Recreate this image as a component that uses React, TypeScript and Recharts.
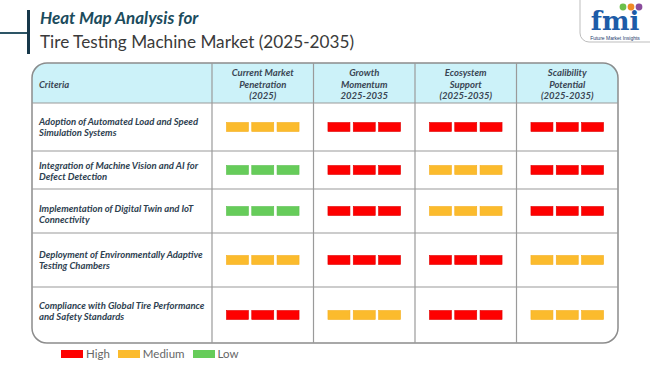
import React from "react";
import {
  ScatterChart,
  Scatter,
  XAxis,
  YAxis,
  ReferenceLine,
  ReferenceArea,
  Legend,
} from "recharts";

// ---------- data ----------
const COLUMN_HEADERS: string[][] = [
  ["Current Market", "Penetration", "(2025)"],
  ["Growth", "Momentum", "2025-2035"],
  ["Ecosystem", "Support", "(2025-2035)"],
  ["Scalibility", "Potential", "(2025-2035)"],
];

const CRITERIA: string[][] = [
  ["Adoption of Automated Load and Speed", "Simulation Systems"],
  ["Integration of Machine Vision and AI for", "Defect Detection"],
  ["Implementation of Digital Twin and IoT", "Connectivity"],
  ["Deployment of Environmentally Adaptive", "Testing Chambers"],
  ["Compliance with Global Tire Performance", "and Safety Standards"],
];

const CURRENT_PENETRATION = ["Medium", "Low", "Low", "Medium", "High"];
const GROWTH_MOMENTUM = ["High", "High", "High", "High", "Medium"];
const ECOSYSTEM_SUPPORT = ["High", "Medium", "Medium", "High", "High"];
const SCALABILITY_POTENTIAL = ["High", "High", "High", "Medium", "Medium"];

const LEVELS = ["High", "Medium", "Low"];

// ---------- layout / style ----------
const COLORS: Record<string, string> = {
  High: "#fe0000",
  Medium: "#fbbb2d",
  Low: "#66cc5a",
};
const STROKES: Record<string, string> = {
  High: "#e00000",
  Medium: "#f5b020",
  Low: "#5cc050",
};

const CRIT_W = 180;
const COL_W = 101.5;
const HEADER_H = 40;
const ROW_H = [48, 38, 44, 54, 56];
const LABEL_SHIFT = [0, 1, 3, 0, -4];
const TABLE_W = CRIT_W + COL_W * 4;
const TABLE_H = HEADER_H + ROW_H.reduce((a, b) => a + b, 0);

const rowTop = (i: number) =>
  HEADER_H + ROW_H.slice(0, i).reduce((a, b) => a + b, 0);
const rowMid = (i: number) => rowTop(i) + ROW_H[i] / 2;
const colMid = (j: number) => CRIT_W + COL_W * j + COL_W / 2;

const SERIES = [
  CURRENT_PENETRATION,
  GROWTH_MOMENTUM,
  ECOSYSTEM_SUPPORT,
  SCALABILITY_POTENTIAL,
];

const cellData = SERIES.flatMap((col, j) =>
  col.map((level, i) => ({ x: colMid(j), y: rowMid(i), level }))
);
const headerData = [
  { x: 90, y: HEADER_H / 2 + 1, lines: ["Criteria"], align: "start" },
  ...COLUMN_HEADERS.map((lines, j) => ({
    x: colMid(j),
    y: HEADER_H / 2 + 1,
    lines,
    align: "middle",
  })),
];
const labelData = CRITERIA.map((lines, i) => ({
  x: 7,
  y: rowMid(i) + LABEL_SHIFT[i],
  lines,
}));

const FONT = "Lato, 'Open Sans', sans-serif";

const CellShape = (props: any) => {
  const { cx, cy, payload } = props;
  const w = 22;
  const h = 9;
  const gap = 3.3;
  const total = w * 3 + gap * 2;
  const fill = COLORS[payload.level];
  const stroke = STROKES[payload.level];
  return (
    <g>
      {[0, 1, 2].map((k) => (
        <rect
          key={k}
          x={cx - total / 2 + k * (w + gap)}
          y={cy - h / 2}
          width={w}
          height={h}
          fill={fill}
          stroke={stroke}
          strokeWidth={0.6}
        />
      ))}
    </g>
  );
};

const HeaderShape = (props: any) => {
  const { cx, cy, payload } = props;
  const n = payload.lines.length;
  const lh = 11.5;
  const x = payload.align === "start" ? cx - 90 + 7 : cx;
  return (
    <text
      x={x}
      textAnchor={payload.align}
      fontFamily={FONT}
      fontStyle="italic"
      fontWeight={700}
      fontSize={9.5}
      fill="#3a4654"
    >
      {payload.lines.map((l: string, k: number) => (
        <tspan
          key={k}
          x={x}
          y={cy + (k - (n - 1) / 2) * lh}
          dominantBaseline="central"
        >
          {l}
        </tspan>
      ))}
    </text>
  );
};

const LabelShape = (props: any) => {
  const { cx, cy, payload } = props;
  const n = payload.lines.length;
  const lh = 11.5;
  return (
    <text
      fontFamily={FONT}
      fontStyle="italic"
      fontWeight={700}
      fontSize={9.5}
      fill="#2e4150"
    >
      {payload.lines.map((l: string, k: number) => (
        <tspan
          key={k}
          x={cx}
          y={cy + (k - (n - 1) / 2) * lh}
          dominantBaseline="central"
        >
          {l}
        </tspan>
      ))}
    </text>
  );
};

const OuterBorder = (props: any) => {
  const { x, y, width, height } = props;
  return (
    <rect
      x={x}
      y={y}
      width={width}
      height={height}
      rx={15}
      ry={15}
      fill="none"
      stroke="#8c8c8c"
      strokeWidth={1.5}
    />
  );
};

const HeaderBg = (props: any) => {
  const { x, y, width, height } = props;
  const r = 15;
  const d = `M${x},${y + height} L${x},${y + r} Q${x},${y} ${x + r},${y} L${
    x + width - r
  },${y} Q${x + width},${y} ${x + width},${y + r} L${x + width},${
    y + height
  } Z`;
  return <path d={d} fill="#ccf2f9" stroke="none" />;
};

const LegendContent = () => (
  <div
    style={{
      display: "flex",
      alignItems: "center",
      fontFamily: FONT,
      fontSize: 11.5,
      color: "#666",
    }}
  >
    {LEVELS.map((lv) => (
      <div
        key={lv}
        style={{ display: "flex", alignItems: "center", marginRight: 8 }}
      >
        <div
          style={{
            width: 22,
            height: 8,
            background: COLORS[lv],
            marginRight: 3,
          }}
        />
        <span>{lv}</span>
      </div>
    ))}
  </div>
);

const Logo = () => (
  <svg
    width={90}
    height={50}
    style={{ position: "absolute", left: 565, top: 0 }}
  >
    <rect
      x={15}
      y={-12}
      width={90}
      height={54}
      rx={9}
      fill="#fff"
      stroke="#bdbdbd"
      strokeWidth={1}
    />
    <circle cx={58} cy={7} r={3.4} fill="#6cc04a" />
    <circle cx={66} cy={7} r={3.4} fill="#f08a24" />
    <circle cx={74} cy={7} r={3.4} fill="#8a4c9c" />
    <text
      x={50}
      y={29.5}
      textAnchor="middle"
      fontFamily="'DejaVu Serif', serif"
      fontWeight={700}
      fontSize={26}
      fill="#1d5ca8"
      letterSpacing={0}
    >
      fmi
    </text>
    <text
      x={50}
      y={39.5}
      textAnchor="middle"
      fontFamily="'Liberation Sans', sans-serif"
      fontSize={5}
      fill="#1d3e6e"
    >
      Future Market Insights
    </text>
  </svg>
);

export default function App() {
  const hLines = ROW_H.map((_, i) => rowTop(i));
  const vLines = [0, 1, 2, 3].map((j) => CRIT_W + COL_W * j);
  return (
    <div
      style={{
        position: "absolute",
        left: 0,
        top: 0,
        width: 650,
        height: 365,
        background: "#fff",
        overflow: "hidden",
      }}
    >
      <div
        style={{
          position: "absolute",
          left: 0,
          top: 32,
          width: 28,
          height: 1.5,
          background: "#2d5566",
        }}
      />
      <div
        style={{
          position: "absolute",
          left: 27,
          top: 10,
          width: 3,
          height: 44,
          background: "#17384a",
        }}
      />
      <div
        style={{
          position: "absolute",
          left: 40,
          top: 7,
          fontFamily: FONT,
          fontStyle: "italic",
          fontWeight: 700,
          fontSize: 17,
          lineHeight: "22px",
          color: "#1c4c5d",
          whiteSpace: "nowrap",
        }}
      >
        Heat Map Analysis for
      </div>
      <div
        style={{
          position: "absolute",
          left: 40,
          top: 31,
          fontFamily: FONT,
          fontSize: 17.2,
          lineHeight: "22px",
          color: "#3a3a3a",
          whiteSpace: "nowrap",
        }}
      >
        Tire Testing Machine Market (2025-2035)
      </div>
      <Logo />
      <div style={{ position: "absolute", left: 0, top: 0 }}>
        <ScatterChart
          width={650}
          height={365}
          margin={{ top: 63, right: 32, bottom: 22, left: 32 }}
        >
          <XAxis type="number" dataKey="x" domain={[0, TABLE_W]} hide />
          <YAxis
            type="number"
            dataKey="y"
            domain={[0, TABLE_H]}
            reversed
            hide
          />
          <ReferenceArea
            x1={0}
            x2={TABLE_W}
            y1={0}
            y2={HEADER_H}
            shape={<HeaderBg />}
          />
          {hLines.map((v) => (
            <ReferenceLine
              key={"h" + v}
              y={v}
              stroke="#9a9a9a"
              strokeWidth={1.2}
            />
          ))}
          {vLines.map((v) => (
            <ReferenceLine
              key={"v" + v}
              x={v}
              stroke="#9a9a9a"
              strokeWidth={1.2}
            />
          ))}
          <ReferenceArea
            x1={0}
            x2={TABLE_W}
            y1={0}
            y2={TABLE_H}
            shape={<OuterBorder />}
          />
          <Scatter
            data={cellData}
            shape={<CellShape />}
            isAnimationActive={false}
            legendType="none"
          />
          <Scatter
            data={headerData}
            shape={<HeaderShape />}
            isAnimationActive={false}
            legendType="none"
          />
          <Scatter
            data={labelData}
            shape={<LabelShape />}
            isAnimationActive={false}
            legendType="none"
          />
          <Legend
            layout="horizontal"
            verticalAlign="middle"
            align="center"
            content={<LegendContent />}
            wrapperStyle={{
              position: "absolute",
              left: 61,
              top: 347,
              width: 300,
              height: 16,
            }}
          />
        </ScatterChart>
      </div>
    </div>
  );
}
